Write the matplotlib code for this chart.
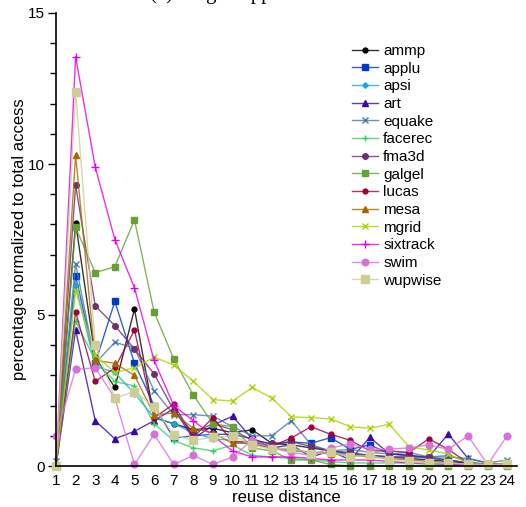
import numpy as np
import matplotlib
matplotlib.use('Agg')
from matplotlib import pyplot as plt
from matplotlib.colors import to_rgba
from matplotlib.ticker import MultipleLocator

plt.rcParams['font.family'] = ['Liberation Sans', 'DejaVu Sans']

# reuse distance 1..24
dist = list(range(1, 25))

# values (percentage of total access)
ammp = [0, 8.05, 3.6, 2.6, 5.2, 1.6, 1.4, 1.2, 1.25, 1.1, 1.2, 0.75,
        0.7, 0.6, 0.5, 0.4, 0.35, 0.3, 0.25, 0.2, 0.15, 0.1, 0.05, 0.05]
applu = [0, 6.3, 3.4, 5.45, 3.4, 2.0, 0.92, 1.0, 1.05, 1.05, 0.9, 0.7,
         0.8, 0.75, 0.94, 0.55, 0.7, 0.4, 0.35, 0.25, 0.2, 0.1, 0.05, 0.05]
apsi = [0, 6.0, 3.3, 3.1, 2.4, 1.6, 1.4, 1.1, 0.9, 0.85, 0.7, 0.6,
        0.5, 0.45, 0.45, 0.4, 0.35, 0.3, 0.3, 0.3, 0.35, 0.15, 0.05, 0.05]
art = [0, 4.5, 1.5, 0.9, 1.15, 1.5, 1.9, 0.9, 1.35, 1.65, 0.9, 0.6,
       0.7, 0.3, 0.5, 0.2, 0.95, 0.4, 0.35, 0.3, 1.06, 0.25, 0.1, 0.05]
equake = [0.15, 6.7, 3.4, 4.1, 3.9, 2.5, 1.7, 1.7, 1.65, 1.3, 1.0, 1.0,
          1.5, 0.7, 0.5, 0.55, 0.45, 0.4, 0.45, 0.3, 0.3, 0.25, 0.1, 0.2]
facerec = [0, 4.8, 3.5, 2.8, 2.65, 1.4, 0.84, 0.6, 0.5, 0.7, 0.35, 0.3,
           0.25, 0.2, 0.15, 0.1, 0.1, 0.1, 0.1, 0.05, 0.05, 0.05, 0.05, 0.05]
fma3d = [0, 9.3, 5.3, 4.65, 3.87, 3.05, 1.85, 1.1, 1.4, 1.2, 0.85, 0.75,
         0.8, 0.65, 0.5, 0.45, 0.35, 0.3, 0.3, 0.3, 0.2, 0.1, 0.05, 0.05]
galgel = [0, 7.9, 6.4, 6.6, 8.15, 5.1, 3.55, 2.35, 1.4, 1.3, 0.6, 0.5,
          0.2, 0.2, 0.05, 0.0, 0.0, 0.0, 0.0, 0.0, 0.0, 0.0, 0.0, 0.0]
lucas = [0, 5.1, 2.8, 3.25, 4.5, 1.6, 2.05, 0.95, 1.6, 0.8, 0.8, 0.65,
         0.93, 1.3, 1.05, 0.85, 0.5, 0.5, 0.45, 0.9, 0.55, 0.1, 0.05, 0.05]
mesa = [0, 10.3, 3.5, 3.4, 3.0, 1.7, 1.75, 1.25, 1.1, 0.75, 0.75, 0.6,
        0.55, 0.45, 0.4, 0.35, 0.3, 0.25, 0.2, 0.15, 0.1, 0.05, 0.05, 0.05]
mgrid = [0, 5.8, 3.67, 3.1, 3.25, 3.6, 3.35, 2.8, 2.2, 2.15, 2.6, 2.25,
         1.63, 1.6, 1.56, 1.3, 1.25, 1.38, 0.63, 0.53, 0.4, 0.1, 0.05, 0.1]
sixtrack = [0, 13.55, 9.9, 7.5, 5.9, 3.5, 2.0, 1.5, 1.0, 0.5, 0.3, 0.3,
            0.3, 0.25, 0.2, 0.2, 0.2, 0.15, 0.1, 0.1, 0.05, 0.05, 0.05, 0.05]
swim = [1.0, 3.2, 3.25, 2.25, 0.05, 1.05, 0.05, 0.35, 0.05, 0.3, 0.86, 0.6,
        0.45, 0.35, 0.6, 0.73, 0.55, 0.56, 0.6, 0.7, 0.55, 1.0, 0.05, 1.0]
wupwise = [0, 12.4, 4.0, 2.25, 2.46, 1.96, 1.03, 0.85, 0.95, 1.0, 0.7, 0.55,
           0.6, 0.4, 0.45, 0.3, 0.35, 0.2, 0.15, 0.1, 0.1, 0.05, 0.05, 0.05]

names = ['ammp', 'applu', 'apsi', 'art', 'equake', 'facerec', 'fma3d',
         'galgel', 'lucas', 'mesa', 'mgrid', 'sixtrack', 'swim', 'wupwise']
series = [ammp, applu, apsi, art, equake, facerec, fma3d,
          galgel, lucas, mesa, mgrid, sixtrack, swim, wupwise]

# colour, marker, marker size
styles = [('#000000', 'o', 3.5),
          ('#0038d0', 's', 3.8),
          ('#18a8d8', 'D', 2.8),
          ('#3a08a8', '^', 4),
          ('#4878a8', 'x', 4),
          ('#30d060', '+', 5),
          ('#6a3070', 'o', 4),
          ('#68a038', 's', 4.6),
          ('#a0003c', 'o', 3.5),
          ('#a86800', '^', 4),
          ('#a8d400', 'x', 4.5),
          ('#e000e0', '+', 5.5),
          ('#d870d8', 'o', 4.8),
          ('#d0cc98', 's', 5.5)]

fig = plt.figure(figsize=(5.26, 5.07), dpi=100)
ax = fig.add_axes([56 / 526, 41 / 507, (517 - 56) / 526, (466 - 13) / 507])

for name, vals, (col, mk, ms) in zip(names, series, styles):
    ax.plot(dist, vals, color=to_rgba(col, 0.8), lw=1.0, marker=mk, ms=ms,
            mfc=col, mec=col, mew=1.0, label=name, clip_on=False)

ax.set_xlim(1, 24.5)
ax.set_ylim(0, 15)
ax.set_xticks(dist)
ax.yaxis.set_major_locator(MultipleLocator(5))
ax.yaxis.set_minor_locator(MultipleLocator(1))
ax.tick_params(axis='x', length=0, pad=6, labelsize=11)
ax.tick_params(axis='y', which='major', length=6, width=1, labelsize=11, pad=2)
ax.tick_params(axis='y', which='minor', length=4, width=1)
for s in ['top', 'right']:
    ax.spines[s].set_visible(False)
ax.spines['left'].set_linewidth(1.2)
ax.spines['bottom'].set_linewidth(1.2)

ax.set_xlabel('reuse distance', fontsize=12, labelpad=1.5)
ax.set_ylabel('percentage normalized to total access', fontsize=12, labelpad=0.5)

ax.legend(loc='upper left', bbox_to_anchor=(0.629, 0.945), frameon=False,
          fontsize=11, handlelength=1.7, handletextpad=0.33,
          labelspacing=0.24, borderaxespad=0)

# caption sits mostly above the canvas, only its descenders show
fig.text(0.46, 1 + 1 / 507, '(a) Single Application', ha='center',
         va='baseline', fontsize=15, family='Liberation Serif')

fig.savefig('out.png', dpi=100)
